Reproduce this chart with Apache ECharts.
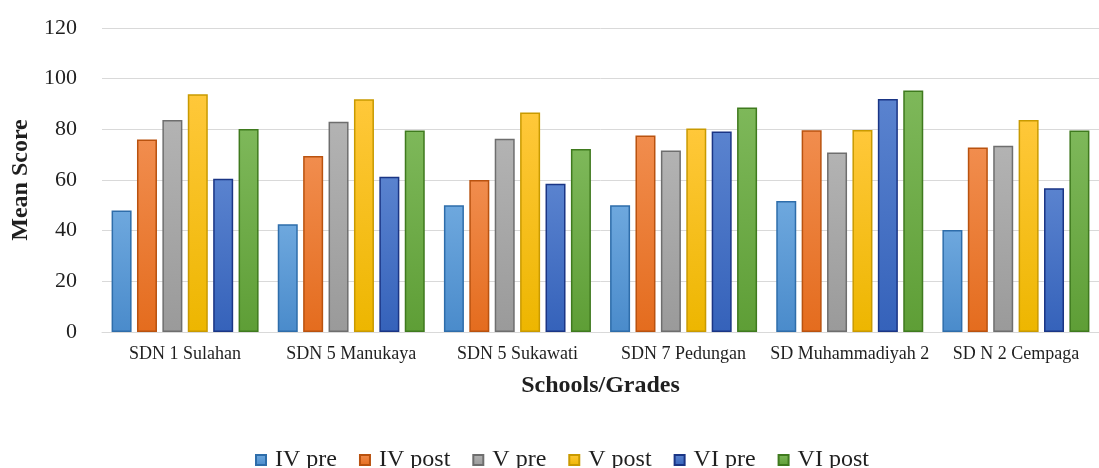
<!DOCTYPE html>
<html>
<head>
<meta charset="utf-8">
<script src="https://cdn.jsdelivr.net/npm/echarts@6/dist/echarts.min.js"></script>
<style>
html,body{margin:0;padding:0;background:#fff;}
#chart{width:1099px;height:468px;}
</style>
</head>
<body>
<div id="chart"></div>
<script>
var categories = ['SDN 1 Sulahan', 'SDN 5 Manukaya', 'SDN 5 Sukawati', 'SDN 7 Pedungan', 'SD Muhammadiyah 2', 'SD N 2 Cempaga'];
var seriesNames = ['IV pre', 'IV post', 'V pre', 'V post', 'VI pre', 'VI post'];
var ivPre  = [48, 42.5, 50, 50, 51.7, 40.3];
var ivPost = [76, 69.5, 60, 77.6, 79.6, 72.8];
var vPre   = [83.7, 83, 76.3, 71.6, 70.9, 73.5];
var vPost  = [93.8, 91.9, 86.6, 80.3, 79.7, 83.7];
var viPre  = [60.5, 61.3, 58.5, 79.1, 92, 56.7];
var viPost = [80.1, 79.5, 72.2, 88.6, 95.3, 79.5];
var yAxisMin = 0, yAxisMax = 120, yAxisStep = 20;

var allValues = [ivPre, ivPost, vPre, vPost, viPre, viPost];
var palette = [
  {top:'#6EA8DE', bottom:'#4A8BCB', border:'#2E6DAA'},
  {top:'#F18D4E', bottom:'#E46C1E', border:'#B9520F'},
  {top:'#B3B3B3', bottom:'#9A9A9A', border:'#6E6E6E'},
  {top:'#FFC83A', bottom:'#EDB600', border:'#C99A00'},
  {top:'#5A83CF', bottom:'#3562BA', border:'#1A3585'},
  {top:'#7EB85A', bottom:'#5E9E36', border:'#3F7A1E'}
];
var font = '"Liberation Serif", "Times New Roman", serif';

var series = seriesNames.map(function(name, i){
  return {
    name: name,
    type: 'bar',
    barWidth: 20,
    barGap: '27%',
    data: allValues[i],
    itemStyle: {
      color: {type:'linear', x:0, y:0, x2:0, y2:1, colorStops:[
        {offset:0, color: palette[i].top},
        {offset:1, color: palette[i].bottom}
      ]},
      borderColor: palette[i].border,
      borderWidth: 1.5
    }
  };
});

var chart = echarts.init(document.getElementById('chart'));
chart.setOption({
  animation: false,
  backgroundColor: '#ffffff',
  grid: {left: 102, top: 28, width: 1006, bottom: 136, containLabel: false},
  legend: {
    data: seriesNames,
    left: 250,
    top: 443,
    itemWidth: 10,
    itemHeight: 10,
    itemGap: 22,
    icon: 'rect',
    textStyle: {fontFamily: font, fontSize: 24, color: '#1f1f1f', padding: [0,0,0,4]}
  },
  xAxis: {
    type: 'category',
    data: categories,
    axisTick: {show: false},
    axisLine: {lineStyle: {color: '#D9D9D9', width: 1}},
    axisLabel: {interval: 0, fontFamily: font, fontSize: 18, color: '#1f1f1f', margin: 13},
    name: 'Schools/Grades',
    nameLocation: 'middle',
    nameGap: 42,
    nameTextStyle: {fontFamily: font, fontSize: 24, fontWeight: 'bold', color: '#1f1f1f'}
  },
  yAxis: {
    type: 'value',
    min: yAxisMin,
    max: yAxisMax,
    interval: yAxisStep,
    axisLine: {show: false},
    axisTick: {show: false},
    splitLine: {lineStyle: {color: '#D9D9D9', width: 1}},
    axisLabel: {fontFamily: font, fontSize: 22, color: '#1f1f1f', margin: 25},
    name: 'Mean Score',
    nameLocation: 'middle',
    nameGap: 68,
    nameTextStyle: {fontFamily: font, fontSize: 24, fontWeight: 'bold', color: '#1f1f1f'}
  },
  series: series
});
</script>
</body>
</html>
